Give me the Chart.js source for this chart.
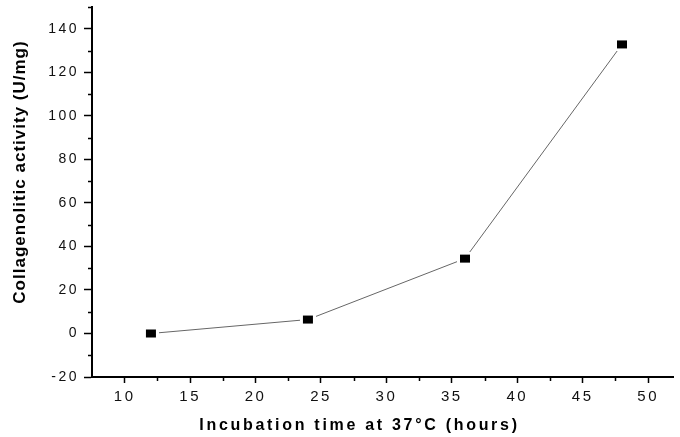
<!DOCTYPE html>
<html>
<head>
<meta charset="utf-8">
<script src="https://cdn.jsdelivr.net/npm/chart.js@4/dist/chart.umd.min.js"></script>
<style>
    html, body { margin: 0; padding: 0; background: #fff; }
    #wrap { width: 680px; height: 437px; }
</style>
</head>
<body>
<div id="wrap"><canvas id="activityChart" width="680" height="437"></canvas></div>
<script>
// Data
const hours = [12, 24, 36, 48];
const activity = [0, 6.4, 34.4, 132.8];

// Axis ticks
const xTicks = [10, 15, 20, 25, 30, 35, 40, 45, 50];
const xMinorTicks = [12.5, 17.5, 22.5, 27.5, 32.5, 37.5, 42.5, 47.5];
const yTicks = [-20, 0, 20, 40, 60, 80, 100, 120, 140];
const yMinorTicks = [-10, 10, 30, 50, 70, 90, 110, 130, 150];

const xTitle = 'Incubation time at 37°C (hours)';
const yTitle = 'Collagenolitic activity (U/mg)';

// Black square marker with a white rim so the line stops short of it
function makeMarker() {
    const c = document.createElement('canvas');
    c.width = 16;
    c.height = 14;
    const g = c.getContext('2d');
    g.fillStyle = '#fff';
    g.fillRect(0, 0, 16, 14);
    g.fillStyle = '#000';
    g.fillRect(3, 3, 10, 8);
    return c;
}

// Spaced-out text like the original plot, minor ticks and axis titles
const plotDecor = {
    id: 'plotDecor',
    beforeDraw(chart) {
        chart.ctx.letterSpacing = '2.5px';
    },
    afterDraw(chart) {
        const ctx = chart.ctx;
        const x = chart.scales.x;
        const y = chart.scales.y;

        ctx.save();
        ctx.strokeStyle = '#000';
        ctx.lineWidth = 1.5;
        ctx.beginPath();
        xMinorTicks.forEach(v => {
            const px = Math.round(x.getPixelForValue(v)) + 0.5;
            ctx.moveTo(px, x.top);
            ctx.lineTo(px, x.top + 4);
        });
        yMinorTicks.forEach(v => {
            const py = Math.round(y.getPixelForValue(v)) + 0.5;
            ctx.moveTo(y.right - 4, py);
            ctx.lineTo(y.right, py);
        });
        ctx.stroke();

        // Axis titles
        ctx.fillStyle = '#000';
        ctx.textAlign = 'center';
        ctx.textBaseline = 'middle';
        ctx.font = 'bold 16px "Liberation Sans", Arial, sans-serif';
        ctx.letterSpacing = '2.7px';
        ctx.fillText(xTitle, (x.left + x.right) / 2 - 23, 426);

        ctx.font = 'bold 17px "Liberation Sans", Arial, sans-serif';
        ctx.letterSpacing = '1px';
        ctx.translate(20, (y.top + y.bottom) / 2 - 20);
        ctx.rotate(-Math.PI / 2);
        ctx.fillText(yTitle, 0, 0);
        ctx.restore();
        ctx.letterSpacing = '0px';
    }
};

function renderChart() {
    const ctx = document.getElementById('activityChart').getContext('2d');

    new Chart(ctx, {
        type: 'line',
        data: {
            datasets: [{
                data: hours.map((h, i) => ({ x: h, y: activity[i] })),
                borderColor: '#666',
                borderWidth: 1,
                pointStyle: makeMarker(),
                pointRadius: 6,
                tension: 0,
                fill: false
            }]
        },
        options: {
            responsive: false,
            animation: false,
            layout: { padding: { top: 7, right: 0, left: 0, bottom: 0 } },
            plugins: {
                legend: { display: false },
                tooltip: { enabled: false }
            },
            scales: {
                x: {
                    type: 'linear',
                    min: 7.5,
                    max: 51.9,
                    afterBuildTicks: axis => { axis.ticks = xTicks.map(v => ({ value: v })); },
                    afterFit: axis => {
                        axis.height = 60;
                        axis.paddingLeft = 0;
                        axis.paddingRight = 0;
                    },
                    grid: {
                        drawOnChartArea: false,
                        drawTicks: true,
                        tickLength: 6,
                        tickWidth: 1.5,
                        tickColor: '#000'
                    },
                    border: { display: true, color: '#000', width: 2 },
                    ticks: {
                        color: '#111',
                        padding: 5,
                        maxRotation: 0,
                        font: { family: '"Liberation Sans", Arial, sans-serif', size: 15 }
                    }
                },
                y: {
                    type: 'linear',
                    min: -20,
                    max: 150,
                    afterBuildTicks: axis => { axis.ticks = yTicks.map(v => ({ value: v })); },
                    afterFit: axis => {
                        axis.width = 92;
                        axis.paddingTop = 0;
                        axis.paddingBottom = 0;
                    },
                    grid: {
                        drawOnChartArea: false,
                        drawTicks: true,
                        tickLength: 8,
                        tickWidth: 1.5,
                        tickColor: '#000'
                    },
                    border: { display: true, color: '#000', width: 2 },
                    ticks: {
                        color: '#111',
                        padding: 5,
                        font: { family: '"Liberation Sans", Arial, sans-serif', size: 14 }
                    }
                }
            }
        },
        plugins: [plotDecor]
    });
}

document.addEventListener('DOMContentLoaded', renderChart);
</script>
</body>
</html>
